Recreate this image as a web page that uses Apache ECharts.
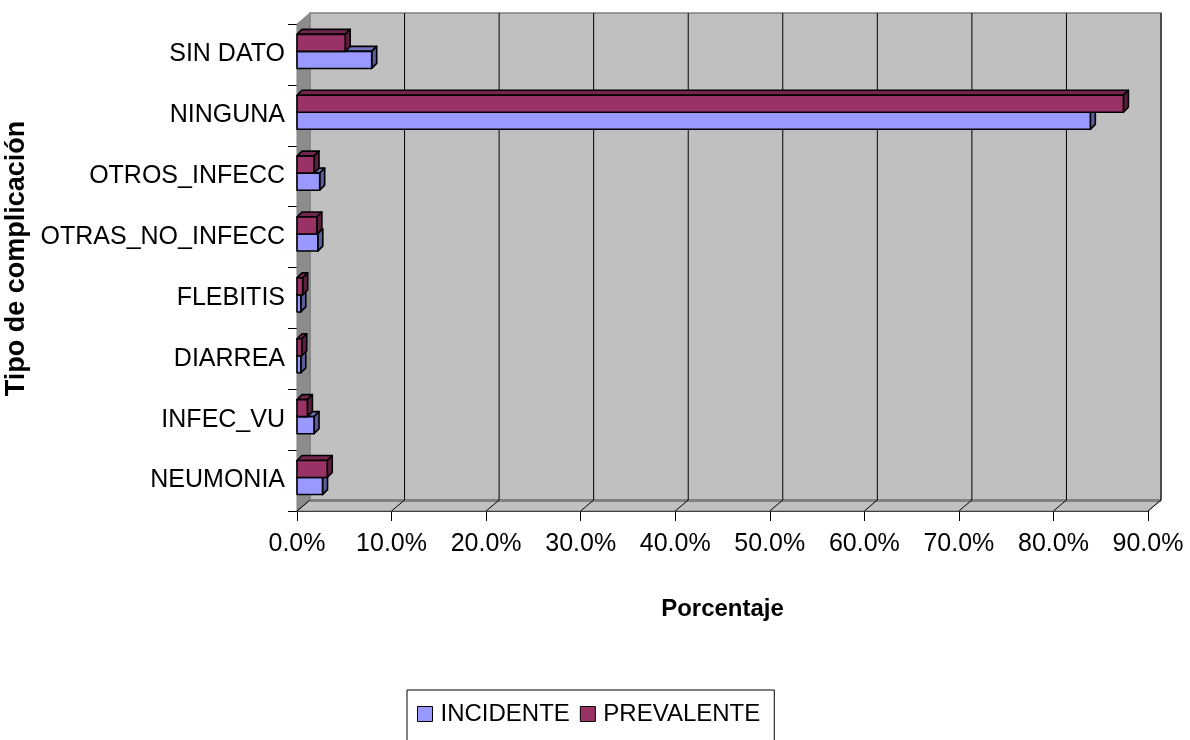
<!DOCTYPE html>
<html>
<head>
<meta charset="utf-8">
<script src="https://cdn.jsdelivr.net/npm/echarts@6/dist/echarts.min.js"></script>
<style>
  html, body { margin: 0; padding: 0; background: #fff; }
  #chart { width: 1190px; height: 740px; }
</style>
</head>
<body>
<div id="chart"></div>
<script>
// Complication types, bottom to top
const categories = ['NEUMONIA', 'INFEC_VU', 'DIARREA', 'FLEBITIS', 'OTRAS_NO_INFECC', 'OTROS_INFECC', 'NINGUNA', 'SIN DATO'];
// Percentages per group
const incidente = [2.7, 1.8, 0.4, 0.4, 2.2, 2.4, 83.9, 7.9];
const prevalente = [3.2, 1.1, 0.5, 0.6, 2.1, 1.8, 87.4, 5.1];
const xTicks = [0, 10, 20, 30, 40, 50, 60, 70, 80, 90];

const FONT = '"Liberation Sans", Arial, sans-serif';
const DEPTH = { dx: 13, dy: -11 };   // wall depth
const BAR_DEPTH = 5;                 // bar depth

function shade(hex, f) {
  const n = parseInt(hex.slice(1), 16);
  const r = Math.round(((n >> 16) & 255) * f);
  const g = Math.round(((n >> 8) & 255) * f);
  const b = Math.round((n & 255) * f);
  return 'rgb(' + r + ',' + g + ',' + b + ')';
}

// 3D-looking bar: front face, top face and right side face
function barRenderer(color, fromFrac, toFrac) {
  return function (params, api) {
    const idx = api.value(1);
    const end = api.coord([api.value(0), idx]);
    const start = api.coord([0, idx]);
    const band = api.size([0, 1])[1];
    const yt = end[1] + band * fromFrac;
    const yb = end[1] + band * toFrac;
    const x0 = start[0], x1 = end[0], d = BAR_DEPTH;
    const stroke = { stroke: '#000', lineWidth: 1.6, lineJoin: 'round' };
    return {
      type: 'group',
      children: [
        { type: 'polygon', shape: { points: [[x0, yt], [x0 + d, yt - d], [x1 + d, yt - d], [x1, yt]] },
          style: Object.assign({ fill: shade(color, 0.75) }, stroke) },
        { type: 'polygon', shape: { points: [[x1, yt], [x1 + d, yt - d], [x1 + d, yb - d], [x1, yb]] },
          style: Object.assign({ fill: shade(color, 0.6) }, stroke) },
        { type: 'rect', shape: { x: x0, y: yt, width: x1 - x0, height: yb - yt },
          style: Object.assign({ fill: color }, stroke) }
      ]
    };
  };
}

// Back wall, side wall, floor and gridlines of the plot box
function wallRenderer(params, api) {
  const cs = params.coordSys;
  const x0 = cs.x, x1 = cs.x + cs.width, y0 = cs.y, y1 = cs.y + cs.height;
  const dx = DEPTH.dx, dy = DEPTH.dy;
  const children = [
    { type: 'polygon', shape: { points: [[x0 + dx, y0 + dy], [x1 + dx, y0 + dy], [x1 + dx, y1 + dy], [x0 + dx, y1 + dy]] },
      style: { fill: '#c0c0c0', stroke: '#808080', lineWidth: 1.5 } },
    { type: 'polygon', shape: { points: [[x0, y1], [x0 + dx, y1 + dy], [x1 + dx, y1 + dy], [x1, y1]] },
      style: { fill: '#c0c0c0', stroke: '#808080', lineWidth: 1 } },
    { type: 'polygon', shape: { points: [[x0, y0], [x0 + dx, y0 + dy], [x0 + dx, y1 + dy], [x0, y1]] },
      style: { fill: '#8c8c8c', stroke: '#808080', lineWidth: 1 } },
    { type: 'line', shape: { x1: x0 + dx, y1: y1 + dy + 0.5, x2: x1 + dx, y2: y1 + dy + 0.5 },
      style: { stroke: '#808080', lineWidth: 3 } }
  ];
  xTicks.forEach(function (t) {
    const px = api.coord([t, 0])[0];
    if (t > 0) {
      children.push({ type: 'line', shape: { x1: px + dx, y1: y0 + dy, x2: px + dx, y2: y1 + dy },
        style: { stroke: '#000', lineWidth: 1 } });
    }
    children.push({ type: 'line', shape: { x1: px, y1: y1, x2: px + dx, y2: y1 + dy },
      style: { stroke: '#000', lineWidth: 1 } });
  });
  return { type: 'group', children: children };
}

const chart = echarts.init(document.getElementById('chart'), null, { renderer: 'canvas' });

chart.setOption({
  animation: false,
  backgroundColor: '#fff',
  grid: { left: 297, right: 42, top: 24, bottom: 229, containLabel: false, outerBoundsMode: 'none' },
  xAxis: {
    type: 'value', min: 0, max: 90, interval: 10,
    name: 'Porcentaje', nameLocation: 'middle', nameGap: 86,
    nameTextStyle: { fontFamily: FONT, fontWeight: 'bold', fontSize: 24, color: '#000' },
    axisLine: { show: true, lineStyle: { color: '#000', width: 1 } },
    axisTick: { show: true, length: 10, lineStyle: { color: '#000' } },
    axisLabel: { margin: 21, fontFamily: FONT, fontSize: 25, color: '#000',
      formatter: function (v) { return v.toFixed(1) + '%'; } },
    splitLine: { show: false }
  },
  yAxis: {
    type: 'category', data: categories,
    name: 'Tipo de complicación', nameLocation: 'middle', nameGap: 264, nameRotate: 90,
    nameTextStyle: { fontFamily: FONT, fontWeight: 'bold', fontSize: 27, color: '#000', padding: [0, 0, 0, 18] },
    axisLine: { show: true, lineStyle: { color: '#000', width: 1 } },
    axisTick: { show: true, length: 9, lineStyle: { color: '#000' } },
    axisLabel: { margin: 12, fontFamily: FONT, fontSize: 25, color: '#000' }
  },
  legend: {
    data: ['INCIDENTE', 'PREVALENTE'],
    left: 407, top: 690,
    icon: 'rect', itemWidth: 15, itemHeight: 15, itemGap: 10,
    itemStyle: { borderColor: '#000', borderWidth: 1 },
    borderColor: '#000', borderWidth: 1,
    padding: [12, 14, 40, 10],
    textStyle: { fontFamily: FONT, fontSize: 24, color: '#000', padding: [0, 0, 0, 3] }
  },
  series: [
    {
      name: 'walls', type: 'custom', silent: true, z: 1,
      data: [[0, 0]], renderItem: wallRenderer
    },
    {
      name: 'INCIDENTE', type: 'custom', z: 2,
      itemStyle: { color: '#9999ff' },
      encode: { x: 0, y: 1 },
      data: incidente.map(function (v, i) { return [v, i]; }),
      renderItem: barRenderer('#9999ff', -0.05, 0.23)
    },
    {
      name: 'PREVALENTE', type: 'custom', z: 2,
      itemStyle: { color: '#993366' },
      encode: { x: 0, y: 1 },
      data: prevalente.map(function (v, i) { return [v, i]; }),
      renderItem: barRenderer('#993366', -0.33, -0.05)
    }
  ]
});
</script>
</body>
</html>
